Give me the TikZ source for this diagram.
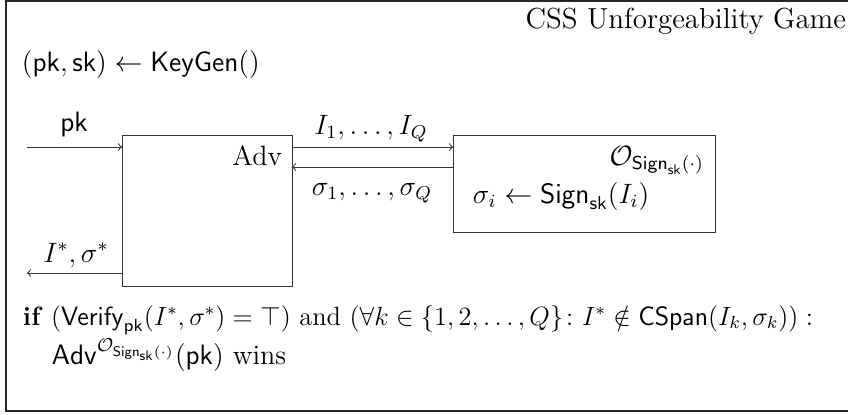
\documentclass[tikz,border=0pt]{standalone}
\usepackage{amsmath,amssymb}
\usepackage{graphicx}
\newcommand{\szA}[1]{\scalebox{1.1667}{#1}}
\newcommand{\szC}[1]{\scalebox{1.1}{#1}}
\begin{document}
\begin{tikzpicture}[x=0.5pt,y=-0.5pt,
  every node/.style={inner sep=0pt, outer sep=0pt, font=\fontsize{12}{14}\selectfont},
  ttl/.style={font=\fontsize{14.5}{17}\selectfont},
  frame/.style={line width=0.8pt, draw=black!85},
  boxst/.style={draw=black!80, line width=0.5pt, inner sep=0pt},
  conn/.style={->, draw=black!80, line width=0.5pt}]
\useasboundingbox (0,0) rectangle (848,414);
\clip (0,0) rectangle (848,414);
\draw[frame] (6,1) rectangle (900,411);
\node[ttl, anchor=base east] (title) at (846,28) {CSS Unforgeability Game};
\node[anchor=base west] (keygen) at (22,71) {\szA{$(\mathsf{pk},\mathsf{sk}) \leftarrow \mathsf{KeyGen}()$}};
% boxes
\node[boxst, anchor=north west, minimum width=85pt, minimum height=75.5pt] (adv) at (122,135) {};
\node[boxst, anchor=north west, minimum width=131pt, minimum height=48.5pt] (orc) at (453,135) {};
\node[anchor=base east] (advlbl) at (282,165) {\szA{Adv}};
\node[anchor=base east] (orclbl) at (704,165) {\szA{$\mathcal{O}_{\mathsf{Sign}_{\mathsf{sk}}(\cdot)}$}};
\node[anchor=base west] (signlbl) at (473,203) {\szA{$\sigma_i \leftarrow \mathsf{Sign}_{\mathsf{sk}}(I_i)$}};
% connectors
\coordinate (pkin) at (27,147);
\coordinate (outend) at (27,273);
\draw[conn] (pkin) -- (pkin -| adv.west);
\node[anchor=base] (pklbl) at (74,131) {\szA{$\mathsf{pk}$}};
\draw[conn] (adv.east |- 0,147) -- (orc.west |- 0,147);
\draw[conn] (orc.west |- 0,167) -- (adv.east |- 0,167);
\node[anchor=base] (ilbl) at (371,134) {\szA{$I_1,\ldots,I_Q$}};
\node[anchor=base] (slbl) at (372,195) {\szA{$\sigma_1,\ldots,\sigma_Q$}};
\draw[conn] (adv.west |- outend) -- (outend);
\node[anchor=base] (outlbl) at (76,262) {\szA{$I^*,\sigma^*$}};
% condition
\node[anchor=base west] (cond1) at (23,325) {\szC{\textbf{if} $(\mathsf{Verify}_{\mathsf{pk}}(I^*,\sigma^*) = \top)$ and $(\forall k \in \{1,2,\ldots,Q\}\colon I^* \notin \mathsf{CSpan}(I_k,\sigma_k)) :$}};
\node[anchor=base west] (cond2) at (52,364) {\szA{$\mathsf{Adv}^{\mathcal{O}_{\mathsf{Sign}_{\mathsf{sk}}(\cdot)}}(\mathsf{pk})$ wins}};
\end{tikzpicture}
\end{document}
